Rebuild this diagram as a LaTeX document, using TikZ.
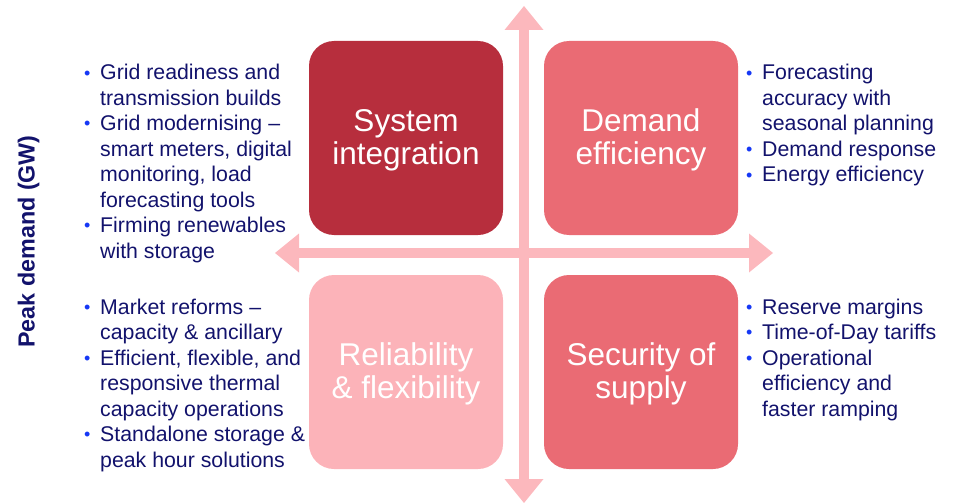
\documentclass[tikz,border=0pt]{standalone}
\usepackage{fontspec}
\setmainfont{Liberation Sans}
\usetikzlibrary{arrows.meta}
\definecolor{sysred}{HTML}{B72E3D}
\definecolor{midred}{HTML}{EA6B74}
\definecolor{lightpink}{HTML}{FCB3B9}
\definecolor{axispink}{HTML}{FCB8BD}
\definecolor{navy}{HTML}{12126C}
\definecolor{bulblue}{HTML}{1638F5}
\newcommand{\bul}{\makebox[16pt][l]{\fontsize{18}{18}\selectfont\textcolor{bulblue}{\raisebox{1pt}{•}}}}
\newcommand{\qtext}[1]{\vbox{\vspace*{6pt}\hbox{\begin{tabular}{@{}c@{}}#1\end{tabular}}}}
\begin{document}
\begin{tikzpicture}[x=1pt,y=-1pt,
  quad/.style={rounded corners=25pt, minimum width=194pt, minimum height=194pt, inner sep=0pt,
    text=white, font=\fontsize{31.5}{33}\selectfont},
  bullets/.style={anchor=base west, inner sep=0pt, text=navy, font=\fontsize{21.3}{25.5}\selectfont},
  axis/.style={draw=axispink, line width=10pt, {Triangle[width=39pt,length=24pt,line width=0pt]}-{Triangle[width=39pt,length=24pt,line width=0pt]}}
]
\useasboundingbox (0,0) rectangle (953,503);

% quadrant boxes
\node[quad, fill=sysred] (si) at (406,138) {\qtext{System\\integration}};
\node[quad, fill=midred] (de) at (641,138) {\qtext{Demand\\efficiency}};
\node[quad, fill=lightpink] (rf) at (406,372) {\qtext{Reliability\\\& flexibility}};
\node[quad, fill=midred] (ss) at (641,372) {\qtext{Security of\\supply}};

% axes
\coordinate (vtop) at (524,6);
\coordinate (vbot) at (524,503);
\coordinate (hleft) at (275,253);
\coordinate (hright) at (773,253);
\draw[axis] (vbot) -- (vtop);
\draw[axis] (hleft) -- (hright);

% axis label
\node[rotate=90, anchor=base, inner sep=0pt, text=navy, font=\fontsize{23.3}{25}\selectfont\bfseries] (peak) at (34.5,241.5) {Peak demand (GW)};

% bullet lists
\node[bullets] (tl) at (84,80) {\begin{tabular}[t]{@{}l@{}l@{}}
\bul & Grid readiness and\\
 & transmission builds\\
\bul & Grid modernising –\\
 & smart meters, digital\\
 & monitoring, load\\
 & forecasting tools\\
\bul & Firming renewables\\
 & with storage
\end{tabular}};

\node[bullets] (bl) at (84,314) {\begin{tabular}[t]{@{}l@{}l@{}}
\bul & Market reforms –\\
 & capacity \& ancillary\\
\bul & Efficient, flexible, and\\
 & responsive thermal\\
 & capacity operations\\
\bul & Standalone storage \&\\
 & peak hour solutions
\end{tabular}};

\node[bullets] (tr) at (746,80) {\begin{tabular}[t]{@{}l@{}l@{}}
\bul & Forecasting\\
 & accuracy with\\
 & seasonal planning\\
\bul & Demand response\\
\bul & Energy efficiency
\end{tabular}};

\node[bullets] (br) at (746,314) {\begin{tabular}[t]{@{}l@{}l@{}}
\bul & Reserve margins\\
\bul & Time-of-Day tariffs\\
\bul & Operational\\
 & efficiency and\\
 & faster ramping
\end{tabular}};
\end{tikzpicture}
\end{document}
